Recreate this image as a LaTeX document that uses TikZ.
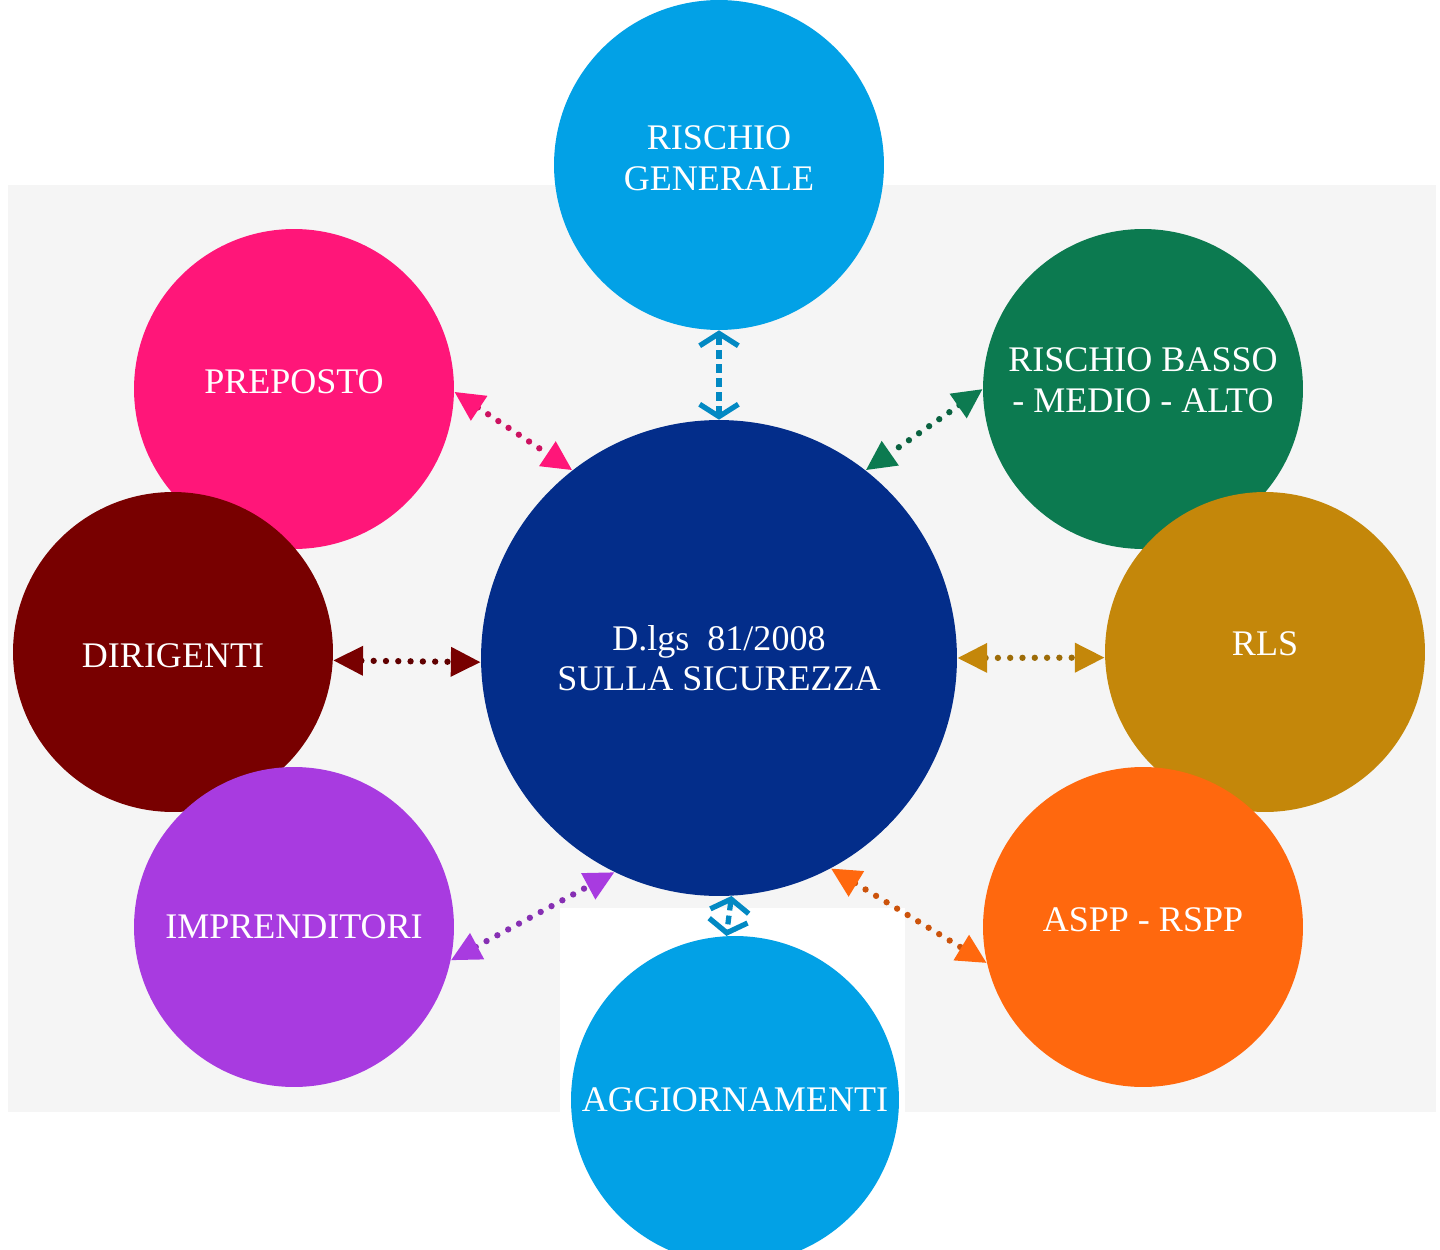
\documentclass[tikz,border=0pt]{standalone}
\usepackage{fontspec}
\setmainfont{Liberation Serif}
\usetikzlibrary{arrows.meta}
\definecolor{ccyan}{RGB}{2,161,230}
\definecolor{cblue}{RGB}{3,45,138}
\definecolor{cpink}{RGB}{255,22,121}
\definecolor{cgreen}{RGB}{12,122,80}
\definecolor{cred}{RGB}{120,0,0}
\definecolor{cgold}{RGB}{196,135,10}
\definecolor{cpurple}{RGB}{168,59,224}
\definecolor{corange}{RGB}{255,104,14}
\definecolor{cbg}{RGB}{245,245,245}
\tikzset{
  bubble/.style={circle, inner sep=0pt, text=white, align=center,
    font=\fontsize{20.5pt}{23pt}\selectfont},
  smallb/.style={bubble, minimum size=6.4cm},
  dotlink/.style={line width=3.6pt, line cap=round, dash pattern=on 0pt off 7pt,
    draw=#1!80!black,
    {Triangle[length=17pt,width=16pt,fill=#1,color=#1]}-{Triangle[length=17pt,width=16pt,fill=#1,color=#1]}},
  barblink/.style={line width=3pt, draw=#1, dash pattern=on 5pt off 3pt,
    {Straight Barb[length=7pt,width=22pt,line width=3pt,color=#1]}-{Straight Barb[length=7pt,width=22pt,line width=3pt,color=#1]}}
}
\begin{document}
\begin{tikzpicture}[x=0.02cm,y=-0.02cm]
\useasboundingbox (0,0) rectangle (1440,1250);
\fill[white] (0,0) rectangle (1440,1250);
\fill[cbg] (8,185) rectangle (1436,1112);
\fill[white] (560,908) rectangle (905,1250);

\node[bubble, fill=ccyan, minimum size=6.6cm, text depth=8pt] (rg) at (719,165) {RISCHIO\\GENERALE};
\node[smallb, fill=cpink, text depth=8pt] (pre) at (294,389) {PREPOSTO};
\node[smallb, fill=cgreen, text depth=10pt] (rb) at (1143,389) {RISCHIO BASSO\\- MEDIO - ALTO};
\node[smallb, fill=cred, text height=18pt] (dir) at (173,652) {DIRIGENTI};
\node[smallb, fill=cgold, text depth=10pt] (rls) at (1265,652) {RLS};
\node[smallb, fill=cpurple] (imp) at (294,927) {IMPRENDITORI};
\node[smallb, fill=corange, text depth=8pt] (aspp) at (1143,927) {ASPP - RSPP};
\node[bubble, fill=ccyan, minimum size=6.56cm] (agg) at (735,1100) {AGGIORNAMENTI};
\node[bubble, fill=cblue, minimum size=9.52cm] (c) at (719,658) {D.lgs\ \ 81/2008\\SULLA SICUREZZA};

\draw[barblink=ccyan!85!black] (rg.south) -- (c.north);
\draw[barblink=ccyan!85!black] (c.-87) -- (agg.93);
\draw[dotlink=cpink] (pre.-1) -- (c.128);
\draw[dotlink=cgreen] (rb.180) -- (c.52);
\draw[dotlink=cred] (dir.-3) -- (c.181);
\draw[dotlink=cgold] (c.0) -- (rls.182);
\draw[dotlink=cpurple] (imp.-12) -- (c.-116);
\draw[dotlink=corange] (c.-62) -- (aspp.193);
\end{tikzpicture}
\end{document}
